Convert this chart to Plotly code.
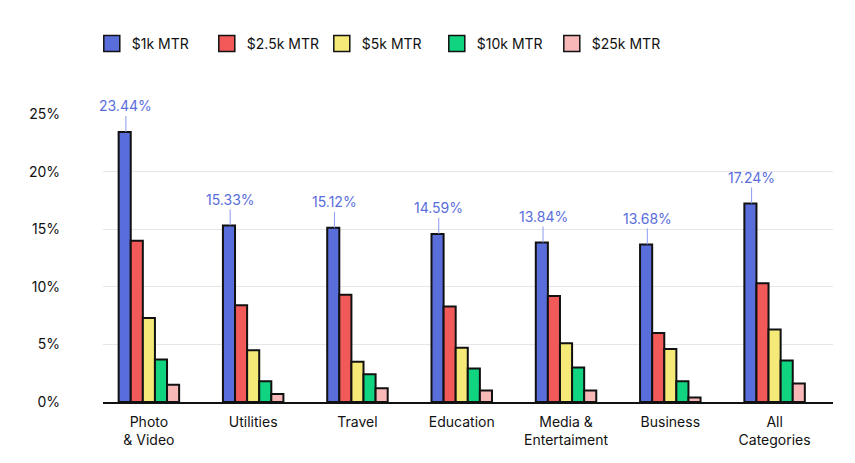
import plotly.graph_objects as go

categories = ["Photo<br>& Video", "Utilities", "Travel", "Education",
              "Media &<br>Entertaiment", "Business", "All<br>Categories"]
series_names = ["$1k MTR", "$2.5k MTR", "$5k MTR", "$10k MTR", "$25k MTR"]
mtr_1k = [23.44, 15.33, 15.12, 14.59, 13.84, 13.68, 17.24]
mtr_2_5k = [14.0, 8.4, 9.3, 8.3, 9.2, 6.0, 10.3]
mtr_5k = [7.3, 4.5, 3.5, 4.7, 5.1, 4.6, 6.3]
mtr_10k = [3.7, 1.8, 2.4, 2.9, 3.0, 1.8, 3.6]
mtr_25k = [1.5, 0.7, 1.2, 1.0, 1.0, 0.4, 1.6]
y_ticks = [0, 5, 10, 15, 20, 25]
y_ticklabels = ["0%", "5%", "10%", "15%", "20%", "25%"]

series_values = [mtr_1k, mtr_2_5k, mtr_5k, mtr_10k, mtr_25k]
colors = ["#5a6edb", "#f25a5a", "#f5ea78", "#10d47f", "#f8b8b8"]
FONT = "Inter, Roboto, sans-serif"

fig = go.Figure()
for name, vals, col in zip(series_names, series_values, colors):
    fig.add_trace(go.Bar(
        x=categories, y=vals, name=name, showlegend=False,
        marker=dict(color=col, line=dict(color="#111111", width=2)),
        hoverinfo="skip",
    ))
# legend proxies (square swatches)
for name, col in zip(series_names, colors):
    fig.add_trace(go.Scatter(
        x=[None], y=[None], mode="markers", name=name,
        marker=dict(symbol="square", size=16, color=col,
                    line=dict(color="#111111", width=1.5)),
    ))

# value annotations over the $1k bars
for cat, v in zip(categories, mtr_1k):
    fig.add_annotation(
        x=cat, y=v, xref="x", yref="y",
        text=f"{v:.2f}%", showarrow=True, arrowhead=0, arrowwidth=1,
        arrowcolor="#8c9bf0", ax=0, ay=-26, xshift=-23,
        font=dict(family=FONT, size=14, color="#5a6edb"),
    )

fig.update_layout(
    width=855, height=463,
    margin=dict(l=95, r=30, t=106, b=69),
    paper_bgcolor="white", plot_bgcolor="white",
    barmode="group", bargap=0.42, bargroupgap=0,
    font=dict(family=FONT, size=14, color="#111111"),
    legend=dict(orientation="h", x=0.098, xanchor="left", xref="container",
                y=0.957, yanchor="top", yref="container",
                font=dict(family=FONT, size=14, color="#111111"),
                entrywidth=70, itemsizing="trace"),
    showlegend=True,
)
fig.update_xaxes(showline=True, linecolor="#111111", linewidth=2,
                 range=[-0.44, 6.56],
                 ticks="", showgrid=False, tickfont=dict(size=14),
                 ticklabelstandoff=6)
fig.update_yaxes(range=[0, 25], tickvals=y_ticks, ticktext=y_ticklabels,
                 showgrid=True, gridcolor="#e6e6e6", gridwidth=1,
                 zeroline=False, showline=False, ticks="",
                 tickfont=dict(size=14), ticklabelstandoff=42)

fig.write_html("out.html")
